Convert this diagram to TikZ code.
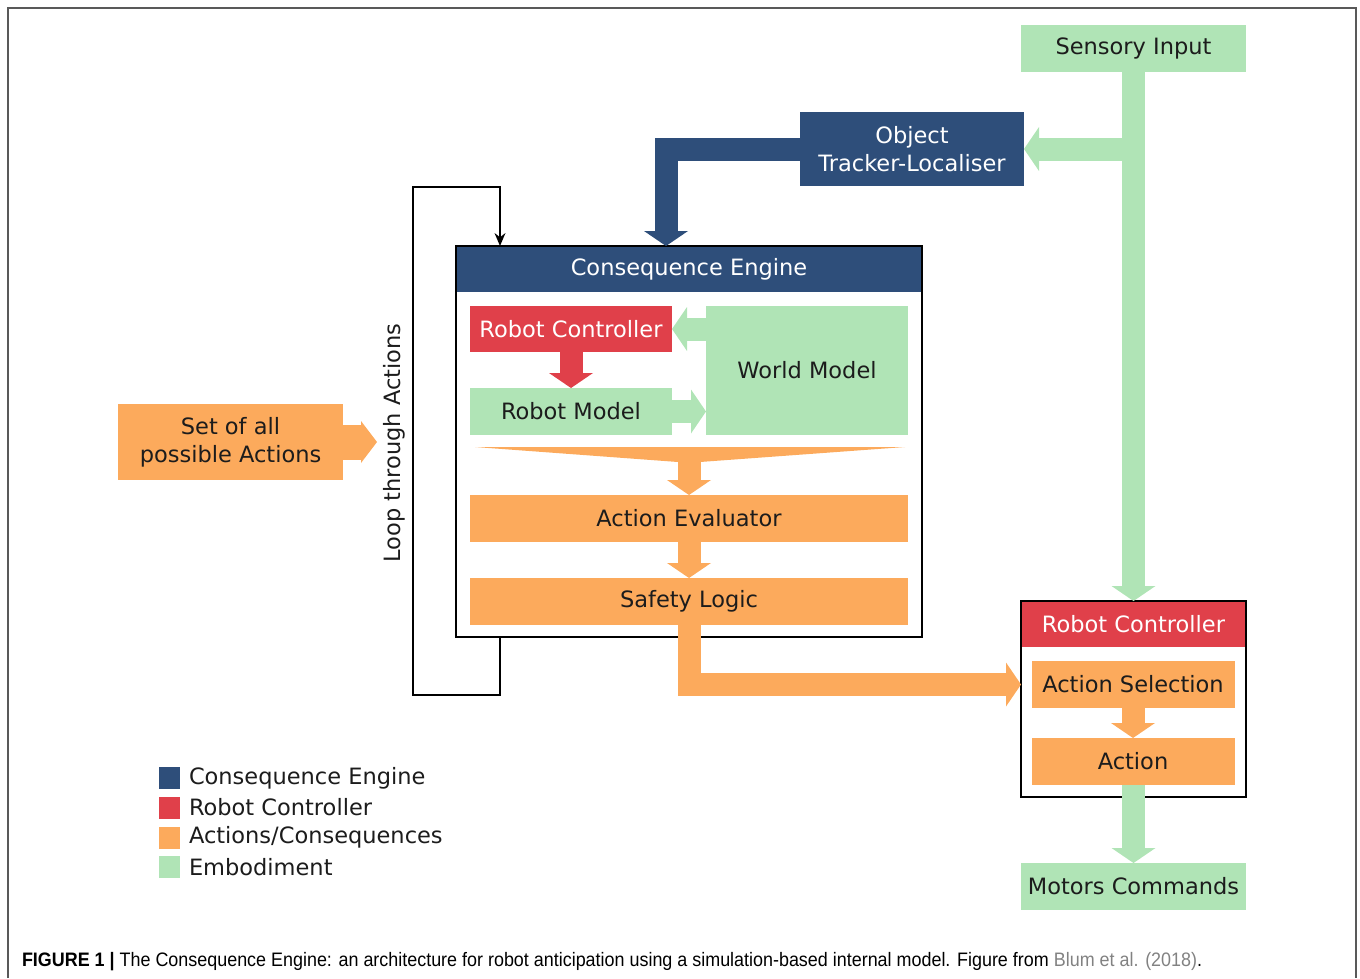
\documentclass[tikz,border=0pt]{standalone}
\usepackage{fontspec}
\setmainfont{DejaVu Sans}
\newfontfamily\capfont{Liberation Sans}
\usepackage{graphicx}
\usetikzlibrary{arrows.meta}
\definecolor{ceblue}{RGB}{46,78,122}
\definecolor{rcred}{RGB}{224,64,74}
\definecolor{acorange}{RGB}{252,170,92}
\definecolor{embgreen}{RGB}{176,228,182}
\definecolor{txt}{RGB}{28,28,28}
\definecolor{capgray}{RGB}{130,130,130}
\begin{document}
\begin{tikzpicture}[x=1pt,y=-1pt,
  every node/.style={inner sep=0pt,outer sep=0pt},
  lbl/.style={font=\fontsize{22.5}{28}\selectfont,text=txt,align=center},
  wlbl/.style={font=\fontsize{22.5}{28}\selectfont,text=white,align=center},
  bx/.style n args={3}{fill=#1,minimum width=#2,minimum height=#3},
  fat/.style={line width=23pt,draw=#1,-{Triangle[width=44pt,length=15pt,line width=0pt,fill=#1]}},
  frame/.style={draw=black,line width=2pt},
  loopline/.style={draw=black,line width=1.8pt,-{Stealth[length=13pt,width=11pt,line width=0pt]}},
  legsq/.style={fill=#1,minimum width=21pt,minimum height=22pt},
  legtxt/.style={font=\fontsize{22.5}{28}\selectfont,text=txt,anchor=west}
]
\useasboundingbox (0,0) rectangle (1360,978);
\draw[draw=black!65,line width=1.5pt] (8,978) -- (8,8) -- (1356,8) -- (1356,978);

% ---- top right
\node[bx={embgreen}{225pt}{47pt},lbl] (sensory) at (1133.5,48.5) {Sensory Input};
\node[bx={ceblue}{224pt}{74pt},wlbl] (ot) at (912,149) {Object\\Tracker-Localiser};

% ---- consequence engine
\node[frame,minimum width=466pt,minimum height=391pt] (ce) at (689,441.5) {};
\fill[ceblue] (ce.north west) rectangle (922,292);
\draw[frame] (ce.north west) rectangle (ce.south east);
\node[wlbl] (cetitle) at (689,269) {Consequence Engine};

\node[bx={rcred}{202pt}{46pt},wlbl] (rc) at (571,329) {Robot Controller};
\node[bx={embgreen}{202pt}{129pt},lbl] (wm) at (807,370.5) {World Model};
\node[bx={embgreen}{202pt}{47pt},lbl] (rm) at (571,411.5) {Robot Model};
\node[bx={acorange}{438pt}{47pt},lbl] (ae) at (689,518.5) {Action Evaluator};
\node[bx={acorange}{438pt}{47pt},lbl] (sl) at (689,601.5) {Safety Logic};

% ---- left
\node[bx={acorange}{225pt}{76pt},lbl] (set) at (230.5,442) {Set of all\\possible Actions};
\node[lbl,rotate=90] (looptxt) at (394,443) {Loop through Actions};

% ---- right robot controller
\node[frame,minimum width=225pt,minimum height=196pt] (rcbox) at (1133.5,699) {};
\fill[rcred] (rcbox.north west) rectangle (1246,647);
\draw[frame] (rcbox.north west) rectangle (rcbox.south east);
\node[wlbl] (rctitle) at (1133.5,624) {Robot Controller};
\node[bx={acorange}{203pt}{47pt},lbl] (as) at (1133,684.5) {Action Selection};
\node[bx={acorange}{203pt}{47pt},lbl] (act) at (1133,761.5) {Action};
\node[bx={embgreen}{225pt}{47pt},lbl] (mc) at (1133.5,886.5) {Motors Commands};

% ---- fat connectors
\coordinate (branch) at (sensory.south |- ot.east);
\draw[fat=embgreen] (branch) -- (ot.east);
\draw[fat=embgreen] (sensory.south) -- (rcbox.north);
\draw[fat=ceblue] (ot.west) -| ([xshift=-23pt]ce.north);
\draw[fat=embgreen] (wm.west |- rc.east) -- (rc.east);
\draw[fat=rcred] (rc.south) -- (rm.north);
\draw[fat=embgreen] (rm.east) -- (rm.east -| wm.west);
\coordinate (funnel) at (689,455);
\fill[acorange] (475,447) -- (905,447) -- (700,462) -- (678,462) -- cycle;
\draw[fat=acorange] (funnel) -- (ae.north);
\draw[fat=acorange] (ae.south) -- (sl.north);
\draw[fat=acorange] (sl.south) |- (as.west -| rcbox.west);
\coordinate (setend) at (377,442);
\draw[fat=acorange,line width=35pt,-{Triangle[width=42pt,length=16pt,line width=0pt,fill=acorange]}] (set.east) -- (setend);
\draw[fat=acorange] (as.south) -- (act.north);
\draw[fat=embgreen] (act.south -| mc.north) -- (mc.north);

% ---- loop line
\coordinate (loopbl) at (413,695);
\coordinate (looptl) at (413,187);
\draw[loopline] ([xshift=-189pt]ce.south) |- (loopbl) -- (looptl) -| ([xshift=-189pt]ce.north);

% ---- legend
\node[legsq=ceblue] (lg1) at (169.5,778) {};
\node[legsq=rcred] (lg2) at (169.5,807.5) {};
\node[legsq=acorange] (lg3) at (169.5,837.5) {};
\node[legsq=embgreen] (lg4) at (169.5,867) {};
\node[legtxt] (lt1) at (189,778) {Consequence Engine};
\node[legtxt] (lt2) at (189,807.5) {Robot Controller};
\node[legtxt] (lt3) at (189,837.5) {Actions/Consequences};
\node[legtxt] (lt4) at (189,867) {Embodiment};

% ---- caption
\node[anchor=base west] (caption) at (22,966) {\resizebox{1180pt}{\height}{\capfont\fontsize{19.5}{23}\selectfont\textbf{FIGURE 1 |} The Consequence Engine: an architecture for robot anticipation using a simulation-based internal model. Figure from \textcolor{capgray}{Blum et al. (2018)}.}};
\end{tikzpicture}
\end{document}
